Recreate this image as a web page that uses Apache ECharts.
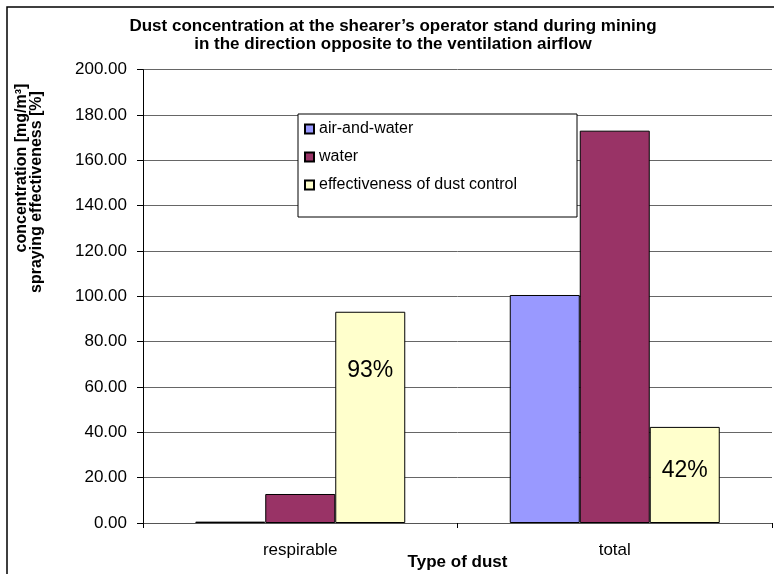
<!DOCTYPE html>
<html>
<head>
<meta charset="utf-8">
<script src="https://cdn.jsdelivr.net/npm/echarts@6/dist/echarts.min.js"></script>
<style>
  html, body { margin: 0; padding: 0; background: #fff; }
  #chart { width: 774px; height: 574px; }
</style>
</head>
<body>
<div id="chart"></div>
<script>
// chart data
var categories = ['respirable', 'total']
var airAndWater = [0.6, 100.6]
var water = [12.8, 173.1]
var effectiveness = [93.2, 42.4]
var effectLabels = ['93%', '42%']
var yTicks = [0, 200, 20]   // min, max, interval

var FONT = '"Liberation Sans", Arial, sans-serif'

var chart = echarts.init(document.getElementById('chart'))

// label offsets inside the yellow bars
var labelDist = [47, 32]

chart.setOption({
  backgroundColor: '#fff',
  animation: false,
  title: {
    text: 'Dust concentration at the shearer\u2019s operator stand during mining\nin the direction opposite to the ventilation airflow',
    left: 388,
    top: 12,
    textAlign: 'center',
    textStyle: { fontFamily: FONT, fontSize: 17, fontWeight: 'bold', color: '#000', lineHeight: 18 }
  },
  grid: { left: 143, right: 2, top: 69.7, bottom: 51, outerBoundsMode: 'none' },
  legend: {
    orient: 'vertical',
    left: 304,
    top: 120,
    padding: 0,
    itemWidth: 9,
    itemHeight: 9,
    itemGap: 10,
    icon: 'rect',
    textStyle: { fontFamily: FONT, fontSize: 16, color: '#000', lineHeight: 18 },
    data: ['air-and-water', 'water', 'effectiveness of dust control']
  },
  xAxis: {
    type: 'category',
    data: categories,
    name: 'Type of dust',
    nameLocation: 'middle',
    nameGap: 31,
    nameMoveOverlap: false,
    nameTextStyle: { fontFamily: FONT, fontSize: 17, fontWeight: 'bold', color: '#000' },
    axisLine: { lineStyle: { color: '#555', width: 1 } },
    axisTick: { show: true, length: 5, lineStyle: { color: '#000' } },
    axisLabel: { margin: 19, fontFamily: FONT, fontSize: 17, color: '#000' },
    splitLine: { show: false }
  },
  yAxis: {
    type: 'value',
    min: yTicks[0],
    max: yTicks[1],
    interval: yTicks[2],
    axisLine: { show: true, lineStyle: { color: '#000', width: 1 } },
    axisTick: { show: true, length: 6, lineStyle: { color: '#000' } },
    axisLabel: {
      margin: 16,
      fontFamily: FONT,
      fontSize: 17,
      color: '#000',
      formatter: function (v) { return v.toFixed(2) }
    },
    splitLine: { lineStyle: { color: '#666', width: 1 } }
  },
  graphic: [
    {
      type: 'rect',
      z: -10,
      shape: { x: 7, y: 7, width: 800, height: 600 },
      style: { fill: 'none', stroke: '#000', lineWidth: 1.5 }
    },
    {
      type: 'rect',
      z: 3,
      shape: { x: 298, y: 114, width: 279, height: 103 },
      style: { fill: '#fff', stroke: '#000', lineWidth: 1 }
    },
    {
      type: 'text',
      x: 22,
      y: 168,
      rotation: Math.PI / 2,
      style: {
        text: 'concentration [mg/m\u00b3]',
        font: 'bold 16px ' + FONT,
        fill: '#000',
        align: 'center',
        verticalAlign: 'middle'
      }
    },
    {
      type: 'text',
      x: 37,
      y: 192,
      rotation: Math.PI / 2,
      style: {
        text: 'spraying effectiveness [%]',
        font: 'bold 16px ' + FONT,
        fill: '#000',
        align: 'center',
        verticalAlign: 'middle'
      }
    }
  ],
  series: [
    {
      name: 'air-and-water',
      type: 'bar',
      barWidth: 70,
      barGap: 0,
      itemStyle: { color: '#9999FF', borderColor: '#000', borderWidth: 1 },
      data: airAndWater
    },
    {
      name: 'water',
      type: 'bar',
      barWidth: 70,
      barGap: 0,
      itemStyle: { color: '#993366', borderColor: '#000', borderWidth: 1 },
      data: water
    },
    {
      name: 'effectiveness of dust control',
      type: 'bar',
      barWidth: 70,
      barGap: 0,
      itemStyle: { color: '#FFFFCC', borderColor: '#000', borderWidth: 1 },
      data: effectiveness.map(function (v, i) {
        return {
          value: v,
          label: {
            show: true,
            position: 'insideTop',
            distance: labelDist[i],
            formatter: effectLabels[i],
            fontFamily: FONT,
            fontSize: 23,
            color: '#000'
          }
        }
      })
    }
  ]
})
</script>
</body>
</html>
